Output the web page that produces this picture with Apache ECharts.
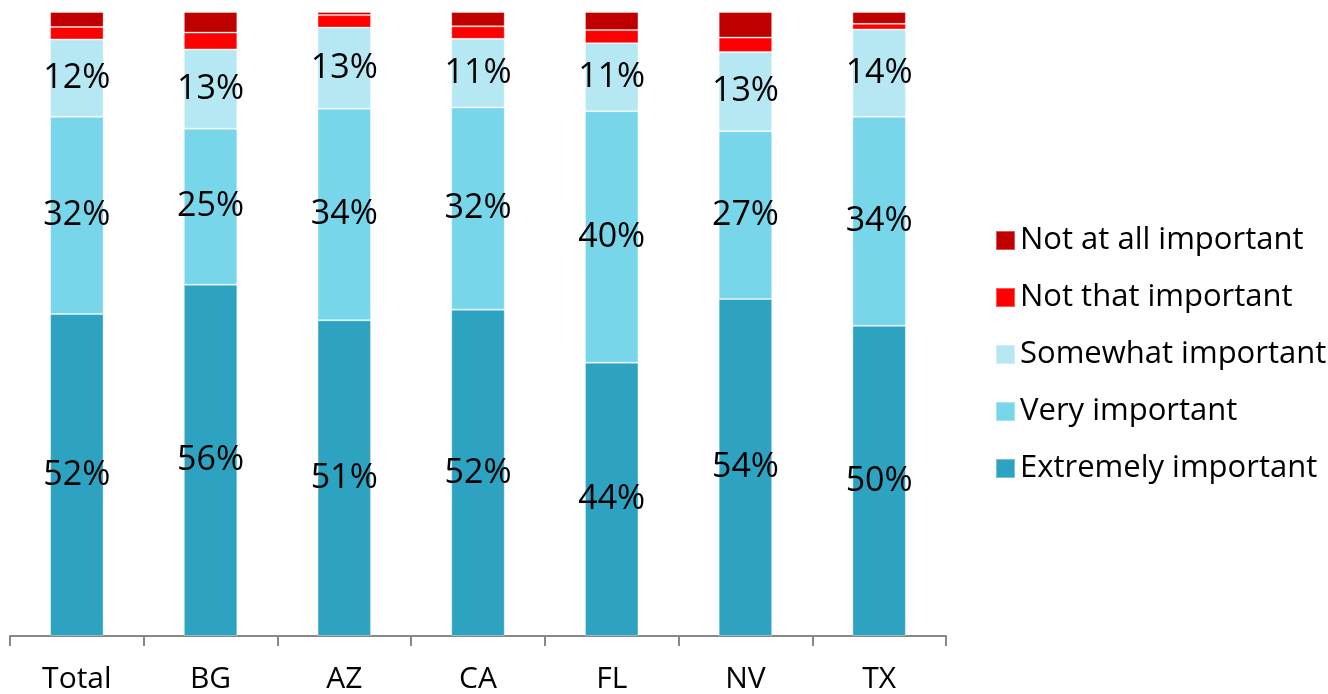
<!DOCTYPE html>
<html>
<head>
<meta charset="utf-8">
<script src="https://cdn.jsdelivr.net/npm/echarts@6/dist/echarts.min.js"></script>
<style>
html,body{margin:0;padding:0;background:#fff;}
#chart{width:1328px;height:694px;}
</style>
</head>
<body>
<div id="chart"></div>
<script>
const categories = ['Total', 'BG', 'AZ', 'CA', 'FL', 'NV', 'TX'];
const extremelyImportant = [51.6, 56.3, 50.6, 52.3, 43.8, 54.0, 49.7];
const veryImportant = [31.6, 25.0, 33.9, 32.4, 40.3, 26.9, 33.5];
const somewhatImportant = [12.4, 12.7, 13.0, 11.0, 10.9, 12.7, 14.0];
const notThatImportant = [2.0, 2.7, 2.0, 2.0, 2.1, 2.3, 0.9];
const notAtAllImportant = [2.4, 3.3, 0.5, 2.3, 2.9, 4.1, 1.9];
const legendOrder = ['Not at all important', 'Not that important', 'Somewhat important', 'Very important', 'Extremely important'];

const FONT = 'Open Sans';
const labelCfg = {
  show: true,
  position: 'inside',
  color: '#000',
  fontFamily: FONT,
  fontSize: 34,
  formatter: p => Math.round(p.value) + '%'
};
function mk(name, data, color, showLabel) {
  return {
    name: name, type: 'bar', stack: 'all', data: data, barWidth: '40%',
    itemStyle: { color: color, borderColor: 'rgba(255,255,255,0.35)', borderWidth: 1 },
    label: showLabel ? labelCfg : { show: false },
    emphasis: { disabled: true }
  };
}
const chart = echarts.init(document.getElementById('chart'));
chart.setOption({
  animation: false,
  grid: { left: 10, right: 382, top: 12, bottom: 58, containLabel: false },
  legend: {
    orient: 'vertical', left: 990, top: 220,
    data: legendOrder,
    itemWidth: 19, itemHeight: 19, itemGap: 26,
    icon: 'rect',
    textStyle: { fontFamily: FONT, fontSize: 31, color: '#000', lineHeight: 30 }
  },
  xAxis: {
    type: 'category', data: categories,
    axisLine: { lineStyle: { color: '#888', width: 2 } },
    axisTick: { show: true, length: 10, lineStyle: { color: '#888', width: 2 } },
    axisLabel: { fontFamily: FONT, fontSize: 30, color: '#000', margin: 28 }
  },
  yAxis: { type: 'value', min: 0, max: 100, show: false, splitLine: { show: false } },
  series: [
    mk('Extremely important', extremelyImportant, '#2DA3C1', true),
    mk('Very important', veryImportant, '#78D6EA', true),
    mk('Somewhat important', somewhatImportant, '#B6E8F3', true),
    mk('Not that important', notThatImportant, '#FF0000', false),
    mk('Not at all important', notAtAllImportant, '#C00000', false)
  ]
});
</script>
</body>
</html>
